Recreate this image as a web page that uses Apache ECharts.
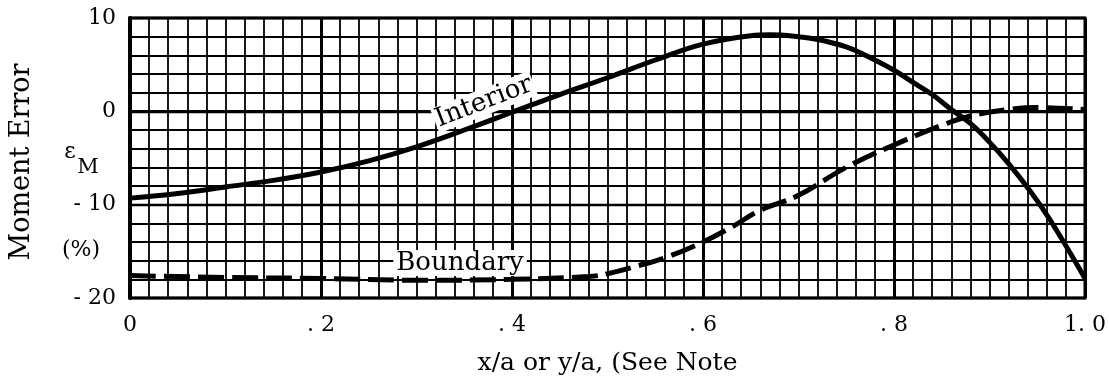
<!DOCTYPE html>
<html>
<head>
<meta charset="utf-8">
<script src="https://cdn.jsdelivr.net/npm/echarts@6/dist/echarts.min.js"></script>
<style>
  html, body { margin: 0; padding: 0; background: #fff; }
  #chart { width: 1109px; height: 381px; }
</style>
</head>
<body>
<div id="chart"></div>
<script>
// Moment error along the plate, interior vs boundary sections
const interiorX = [0, 0.05, 0.1, 0.15, 0.2, 0.25, 0.3, 0.35, 0.4, 0.45, 0.5, 0.55, 0.6, 0.65, 0.67, 0.7, 0.72, 0.75, 0.77, 0.8, 0.82, 0.84, 0.86, 0.88, 0.9, 0.92, 0.94, 0.96, 0.98, 1.0];
const interiorY = [-9.3, -8.8, -8.1, -7.4, -6.5, -5.3, -3.8, -2.0, -0.1, 1.8, 3.6, 5.5, 7.2, 8.1, 8.2, 8.0, 7.7, 6.9, 6.0, 4.4, 3.1, 1.8, 0.2, -1.3, -3.3, -5.6, -8.2, -11.1, -14.4, -17.9];

const boundaryX = [0, 0.1, 0.2, 0.3, 0.4, 0.48, 0.5, 0.53, 0.56, 0.6, 0.63, 0.66, 0.7, 0.75, 0.8, 0.85, 0.88, 0.92, 0.95, 1.0];
const boundaryY = [-17.6, -17.8, -17.9, -18.1, -18.0, -17.7, -17.4, -16.6, -15.7, -14.0, -12.4, -10.6, -9.0, -6.0, -3.6, -1.5, -0.5, 0.2, 0.4, 0.2];

const xTicks = { 0: '0', 0.2: '. 2', 0.4: '. 4', 0.6: '. 6', 0.8: '. 8', 1: '1. 0' };
const yTicks = { 10: '10', 0: '0', '-10': '- 10', '-20': '- 20' };

const SERIF = '"DejaVu Serif", "Liberation Serif", serif';

function pairs(xs, ys) { return xs.map((x, i) => [x, ys[i]]); }

const chart = echarts.init(document.getElementById('chart'), null, { renderer: 'canvas' });

chart.setOption({
  backgroundColor: '#ffffff',
  animation: false,
  grid: { left: 130, right: 24, top: 18, bottom: 76, show: true, borderColor: '#000', borderWidth: 3, backgroundColor: 'transparent' },
  xAxis: {
    type: 'value', min: 0, max: 1, interval: 0.2,
    axisLine: { show: true, lineStyle: { color: '#000', width: 3 } },
    axisTick: { show: false },
    minorTick: { show: false, splitNumber: 10 },
    splitLine: { show: true, lineStyle: { color: '#000', width: 3 } },
    minorSplitLine: { show: true, lineStyle: { color: '#000', width: 1.8 } },
    axisLabel: {
      margin: 16, color: '#000', fontFamily: SERIF, fontSize: 22,
      formatter: v => xTicks[Math.round(v * 10) / 10] ?? ''
    },
    name: 'x/a or y/a, (See Note', nameLocation: 'middle', nameGap: 53,
    nameTextStyle: { color: '#000', fontFamily: SERIF, fontSize: 25 }
  },
  yAxis: {
    type: 'value', min: -20, max: 10, interval: 10,
    axisLine: { show: true, lineStyle: { color: '#000', width: 4 } },
    axisTick: { show: false },
    minorTick: { show: false, splitNumber: 5 },
    splitLine: { show: true, lineStyle: { color: '#000', width: 2.4 } },
    minorSplitLine: { show: true, lineStyle: { color: '#000', width: 1.8 } },
    axisLabel: {
      margin: 14, color: '#000', fontFamily: SERIF, fontSize: 22,
      formatter: v => yTicks[v] ?? ''
    }
  },
  graphic: [
    { type: 'text', x: 22, y: 162, rotation: Math.PI / 2,
      style: { text: 'Moment Error', font: '27px ' + SERIF, fill: '#000', align: 'center', verticalAlign: 'middle' } },
    { type: 'text', x: 70, y: 152,
      style: { text: 'ε', font: '22px ' + SERIF, fill: '#000', align: 'center', verticalAlign: 'middle' } },
    { type: 'text', x: 88, y: 168,
      style: { text: 'M', font: '21px ' + SERIF, fill: '#000', align: 'center', verticalAlign: 'middle' } },
    { type: 'text', x: 81, y: 250,
      style: { text: '(%)', font: '22px ' + SERIF, fill: '#000', align: 'center', verticalAlign: 'middle' } },
    { type: 'text', x: 484, y: 102, rotation: 0.37, z: 100,
      style: { text: 'Interior', font: '26px ' + SERIF, fill: '#000', align: 'center', verticalAlign: 'middle',
               backgroundColor: '#fff', padding: [0, 2, 0, 2] } },
    { type: 'text', x: 460, y: 263, z: 100,
      style: { text: 'Boundary', font: '26px ' + SERIF, fill: '#000', align: 'center', verticalAlign: 'middle',
               backgroundColor: '#fff', padding: [0, 3, 0, 3] } }
  ],
  series: [
    {
      name: 'Interior', type: 'line', smooth: 0.4, symbol: 'none', z: 5,
      data: pairs(interiorX, interiorY),
      lineStyle: { color: '#000', width: 5 }
    },
    {
      name: 'Boundary', type: 'line', smooth: 0.4, symbol: 'none', z: 5,
      data: pairs(boundaryX, boundaryY),
      lineStyle: { color: '#000', width: 5, type: [26, 8] }
    }
  ]
});
</script>
</body>
</html>
